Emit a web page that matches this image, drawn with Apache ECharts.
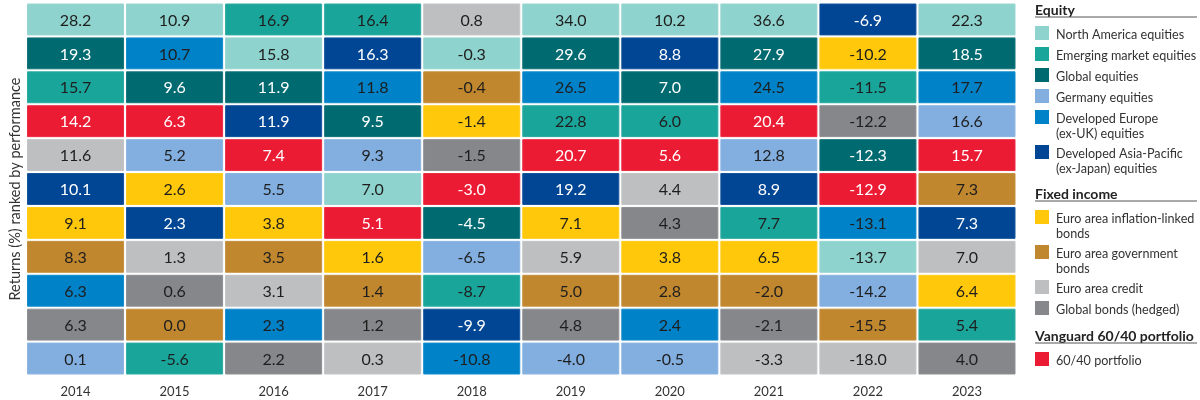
<!DOCTYPE html>
<html>
<head>
<meta charset="utf-8">
<script src="https://cdn.jsdelivr.net/npm/echarts@6/dist/echarts.min.js"></script>
<style>html,body{margin:0;padding:0;background:#fff}#c{width:1200px;height:400px}</style>
</head>
<body>
<div id="c"></div>
<script>
// ---- DATA ----
const years = ['2014','2015','2016','2017','2018','2019','2020','2021','2022','2023'];
// Asset codes ranked from best (top) to worst (bottom), one array per year
const rankedAssets = [
  ['NA','GL','EM','P','CR','AP','IL','GV','EU','GB','DE'],
  ['NA','EU','GL','P','DE','IL','AP','CR','GB','GV','EM'],
  ['EM','NA','GL','AP','P','DE','IL','GV','CR','EU','GB'],
  ['EM','AP','EU','GL','DE','NA','P','IL','GV','GB','CR'],
  ['CR','NA','GV','IL','GB','P','GL','DE','EM','AP','EU'],
  ['NA','GL','EU','EM','P','AP','IL','CR','GV','GB','DE'],
  ['NA','AP','GL','EM','P','CR','GB','IL','GV','EU','DE'],
  ['NA','GL','EU','P','DE','AP','EM','IL','GV','GB','CR'],
  ['AP','IL','EM','GB','GL','P','EU','NA','DE','GV','CR'],
  ['NA','GL','EU','DE','P','GV','AP','CR','IL','EM','GB']
];
// Returns (%) in the same ranked order
const rankedReturns = [
  [28.2,19.3,15.7,14.2,11.6,10.1,9.1,8.3,6.3,6.3,0.1],
  [10.9,10.7,9.6,6.3,5.2,2.6,2.3,1.3,0.6,0.0,-5.6],
  [16.9,15.8,11.9,11.9,7.4,5.5,3.8,3.5,3.1,2.3,2.2],
  [16.4,16.3,11.8,9.5,9.3,7.0,5.1,1.6,1.4,1.2,0.3],
  [0.8,-0.3,-0.4,-1.4,-1.5,-3.0,-4.5,-6.5,-8.7,-9.9,-10.8],
  [34.0,29.6,26.5,22.8,20.7,19.2,7.1,5.9,5.0,4.8,-4.0],
  [10.2,8.8,7.0,6.0,5.6,4.4,4.3,3.8,2.8,2.4,-0.5],
  [36.6,27.9,24.5,20.4,12.8,8.9,7.7,6.5,-2.0,-2.1,-3.3],
  [-6.9,-10.2,-11.5,-12.2,-12.3,-12.9,-13.1,-13.7,-14.2,-15.5,-18.0],
  [22.3,18.5,17.7,16.6,15.7,7.3,7.3,7.0,6.4,5.4,4.0]
];
const ranks = ['1','2','3','4','5','6','7','8','9','10','11'];
const legendGroups = [
  {title:'Equity', items:[['NA',['North America equities']],['EM',['Emerging market equities']],['GL',['Global equities']],['DE',['Germany equities']],['EU',['Developed Europe','(ex-UK) equities']],['AP',['Developed Asia-Pacific','(ex-Japan) equities']]]},
  {title:'Fixed income', items:[['IL',['Euro area inflation-linked','bonds']],['GV',['Euro area government','bonds']],['CR',['Euro area credit']],['GB',['Global bonds (hedged)']]]},
  {title:'Vanguard 60/40 portfolio', items:[['P',['60/40 portfolio']]]}
];

// ---- STYLES ----
const palette = {
  NA:'#8ED3CD', EM:'#1AA59A', GL:'#006A71', DE:'#82AFE0', EU:'#0082C8', AP:'#004694',
  IL:'#FFC80A', GV:'#C1872E', CR:'#BEBFC1', GB:'#86878B', P:'#EC1B34'
};
const whiteText = {GL:1, AP:1, P:1};
const FONT = 'Lato, "Noto Sans", sans-serif';

const cells = [];
years.forEach((y, xi) => {
  rankedReturns[xi].forEach((v, ri) => {
    cells.push({value:[xi, ri, v], asset: rankedAssets[xi][ri]});
  });
});

// Legend graphics
const graphics = [];
const LX = 1035, TX = 1056;
let gy = 10;
legendGroups.forEach((g, gi) => {
  graphics.push({type:'text', x:LX, y:gy, style:{text:g.title, font:'bold 14px '+FONT, fill:'#222', textVerticalAlign:'middle'}});
  graphics.push({type:'line', shape:{x1:LX, y1:gy+7, x2:1197, y2:gy+7}, style:{stroke:'#555', lineWidth:1}});
  let iy = gy + 16;
  g.items.forEach(([code, lines]) => {
    graphics.push({type:'rect', shape:{x:LX, y:iy, width:14, height:14}, style:{fill:palette[code]}});
    lines.forEach((ln, li) => {
      graphics.push({type:'text', x:TX, y:iy+9+li*14.5, style:{text:ln, font:'12.6px '+FONT, fill:'#333', textVerticalAlign:'middle'}});
    });
    iy += lines.length > 1 ? 35 : 21;
  });
  gy = iy + 14;
});

const chart = echarts.init(document.getElementById('c'));
chart.setOption({
  animation:false,
  grid:{left:21.5, right:183.5, top:2.5, bottom:24.5},
  xAxis:{type:'category', data:years, axisLine:{show:false}, axisTick:{show:false},
    axisLabel:{fontFamily:FONT, fontSize:13, color:'#333', margin:10}},
  yAxis:{type:'category', data:ranks, inverse:true, axisLine:{show:false}, axisTick:{show:false}, axisLabel:{show:false},
    name:'Returns (%) ranked by performance', nameLocation:'middle', nameGap:3,
    nameTextStyle:{fontFamily:FONT, fontSize:14.5, color:'#333'}},
  series:[{
    type:'custom',
    data:cells,
    renderItem:function(params, api){
      const d = cells[params.dataIndex];
      const p = api.coord([api.value(0), api.value(1)]);
      const s = api.size([1,1]);
      const col = palette[d.asset];
      return {type:'group', children:[
        {type:'rect', shape:{x:p[0]-s[0]/2+1.5, y:p[1]-s[1]/2+1.5, width:s[0]-3, height:s[1]-3},
          style:{fill:col, stroke:echarts.color.lift(col, 0.08), lineWidth:1}},
        {type:'text', style:{text:api.value(2).toFixed(1), x:p[0], y:p[1]+1, align:'center', verticalAlign:'middle',
          font:'16px '+FONT, fill: whiteText[d.asset] ? '#fff' : '#1e1e1e'}}
      ]};
    }
  }],
  graphic:graphics
});
</script>
</body>
</html>
